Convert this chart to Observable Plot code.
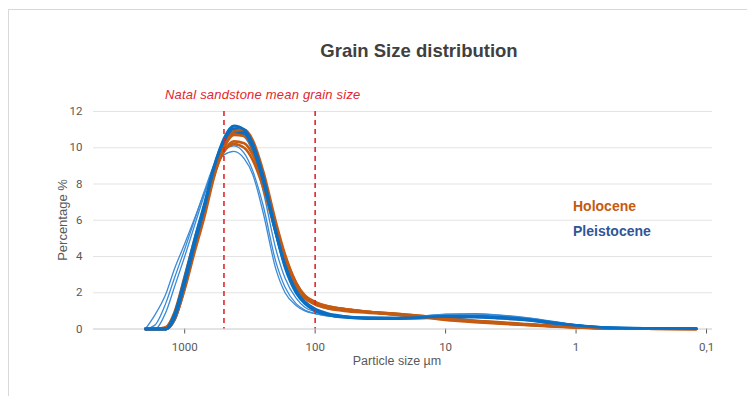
<!DOCTYPE html>
<html><head><meta charset="utf-8">
<script src="https://cdn.jsdelivr.net/npm/d3@7"></script>
<script src="https://cdn.jsdelivr.net/npm/@observablehq/plot@0.6"></script>
<style>
body{margin:0;background:#fff;font-family:Roboto,"Liberation Sans",sans-serif;}
#wrap{position:relative;width:747px;height:396px;overflow:hidden;}
#frame{position:absolute;left:8px;top:9px;width:760px;height:400px;border-top:1px solid #d9d9d9;border-left:1px solid #d9d9d9;}
.t{position:absolute;white-space:nowrap;line-height:20px;}
#chart{position:absolute;left:0;top:0;}
</style></head>
<body>
<div id="wrap">
  <div id="frame"></div>
  <div id="chart"></div>
  <div class="t" style="left:419px;top:40px;transform:translateX(-50%);font:bold 18.5px 'Liberation Sans',Arial,sans-serif;color:#404040;">Grain Size distribution</div>
  <div class="t" style="left:165px;top:87px;font:italic 13px 'Liberation Sans',Arial,sans-serif;letter-spacing:0.2px;color:#e3262e;">Natal sandstone mean grain size</div>
  <div class="t" style="left:573px;top:198px;font:bold 14px 'Liberation Sans',Arial,sans-serif;color:#c55a11;">Holocene</div>
  <div class="t" style="left:573px;top:223px;font:bold 14px 'Liberation Sans',Arial,sans-serif;color:#2f5597;">Pleistocene</div>
  <div class="t" style="left:62px;top:220px;transform:translate(-50%,-50%) rotate(-90deg);font:13px 'Liberation Sans',Arial,sans-serif;color:#595959;">Percentage %</div>
  <div class="t" style="left:397px;top:354px;transform:translateX(-50%);font:12.5px 'Liberation Sans',Arial,sans-serif;color:#595959;">Particle size µm</div>
</div>
<script>
// particle sizes (µm)
const sizes = [2000,1700,1400,1200,1000,850,700,600,500,420,350,300,250,200,170,140,120,100,80,60,40,25,15,10,6,4,2.5,1.5,1,0.6,0.3,0.12];

// Holocene samples (% volume)
const holocene1 = [0,0,0,0.7,2.6,4.5,6.7,8.6,10.1,10.8,10.7,9.9,8.2,5.5,3.8,2.35,1.7,1.35,1.15,1.05,0.95,0.85,0.72,0.6,0.45,0.38,0.28,0.18,0.12,0.05,0.02,0];
const holocene2 = [0,0,0,0.6,2.4,4.3,6.5,8.4,9.8,10.35,10.25,9.6,8.1,5.6,3.9,2.45,1.8,1.4,1.2,1.1,0.95,0.85,0.72,0.6,0.45,0.36,0.26,0.17,0.1,0.04,0.01,0];
const holocene3 = [0,0,0,0.5,2.2,4.1,6.3,8.3,10.0,10.9,11.0,10.4,8.7,5.9,4.1,2.55,1.8,1.4,1.15,1.0,0.9,0.8,0.65,0.55,0.42,0.33,0.24,0.15,0.09,0.03,0.01,0];
const holocene4 = [0,0,0.1,0.9,2.9,4.8,6.9,8.6,9.8,10.2,10.0,9.3,7.8,5.3,3.7,2.4,1.8,1.45,1.25,1.1,0.95,0.8,0.65,0.5,0.38,0.3,0.22,0.14,0.08,0.03,0.01,0];
const holocene5 = [0,0,0,0.6,2.5,4.4,6.6,8.5,10.0,10.7,10.65,10.0,8.4,5.7,4.0,2.55,1.85,1.5,1.25,1.1,0.95,0.82,0.68,0.55,0.42,0.34,0.25,0.16,0.1,0.04,0.01,0];

// Pleistocene samples (% volume)
const pleistocene1 = [0,0,0,0.6,2.5,4.5,6.8,8.8,10.5,11.2,11.0,10.2,8.4,5.4,3.5,2.1,1.45,1.05,0.8,0.68,0.6,0.6,0.65,0.7,0.7,0.65,0.55,0.35,0.2,0.08,0.03,0.02];
const pleistocene2 = [0,0,0,0.8,2.8,4.8,7.0,8.9,10.4,11.05,10.85,10.0,8.2,5.3,3.4,2.0,1.4,1.0,0.78,0.65,0.58,0.58,0.62,0.68,0.68,0.62,0.52,0.33,0.18,0.07,0.03,0.02];
const pleistocene3 = [0,0,0,0.5,2.3,4.3,6.6,8.6,10.2,10.9,10.75,10.0,8.2,5.3,3.5,2.1,1.5,1.1,0.85,0.7,0.62,0.6,0.62,0.65,0.65,0.6,0.5,0.32,0.18,0.07,0.03,0.02];
const pleistocene4 = [0,0.75,1.9,3.3,4.7,6.0,7.6,8.8,9.6,9.8,9.4,8.5,6.4,3.3,2.0,1.3,1.0,0.85,0.72,0.63,0.6,0.62,0.7,0.8,0.82,0.76,0.62,0.4,0.22,0.08,0.03,0.02];
const pleistocene5 = [0,0.2,1.4,2.8,4.4,5.9,7.7,9.0,9.9,10.1,9.7,8.7,6.8,3.7,2.3,1.4,1.05,0.85,0.72,0.63,0.6,0.62,0.72,0.82,0.85,0.78,0.64,0.42,0.24,0.09,0.03,0.02];
const pleistocene6 = [0,0,0.9,2.3,4.0,5.6,7.5,9.0,10.2,10.8,10.6,9.7,7.6,4.4,2.8,1.7,1.2,0.95,0.76,0.65,0.6,0.6,0.68,0.75,0.76,0.7,0.58,0.37,0.2,0.08,0.03,0.02];
const pleistocene7 = [0,0,0,0.5,2.4,4.4,6.7,8.7,10.3,10.9,10.8,10.0,8.2,5.3,3.5,2.1,1.45,1.05,0.8,0.66,0.6,0.6,0.66,0.72,0.72,0.66,0.56,0.36,0.2,0.08,0.03,0.02];

const natalMean = [500, 100];
const xTicks = [1000, 100, 10, 1, 0.1];
const yTicks = [0, 2, 4, 6, 8, 10, 12];

// series drawn in layer order: thin blue, orange, thick blue
const series = [
  {id:"P4", v:pleistocene4, kind:"thin"},
  {id:"P5", v:pleistocene5, kind:"thin"},
  {id:"P6", v:pleistocene6, kind:"thin"},
  {id:"P7", v:pleistocene7, kind:"thin"},
  {id:"H2", v:holocene2, kind:"holo"},
  {id:"H4", v:holocene4, kind:"holo"},
  {id:"H1", v:holocene1, kind:"holo"},
  {id:"P3", v:pleistocene3, kind:"thick"},
  {id:"H5", v:holocene5, kind:"holo"},
  {id:"P2", v:pleistocene2, kind:"thick"},
  {id:"H3", v:holocene3, kind:"holo"},
  {id:"P1", v:pleistocene1, kind:"thick"}
];
const rows = series.flatMap(s => s.v.map((p, i) => ({id: s.id, kind: s.kind, size: sizes[i], pct: p})));

const style = {
  thin: {stroke: "#3b8ad6", strokeWidth: 1.3},
  holo: {stroke: "#c55a11", strokeWidth: 2.6},
  thick: {stroke: "#0a6fc2", strokeWidth: 2.8}
};

const lineMarks = series.map(s => Plot.line(rows.filter(r => r.id === s.id), {
  x: "size", y: "pct", curve: "monotone-x", ...style[s.kind], strokeLinejoin: "round", strokeLinecap: "round"
}));

const chart = Plot.plot({
  width: 747, height: 396,
  marginLeft: 93, marginRight: 35, marginTop: 111, marginBottom: 67.5,
  style: {fontFamily: "Roboto, 'Liberation Sans', sans-serif", fontSize: "11.5px", color: "#595959", background: "transparent"},
  x: {type: "log", domain: [5000, 0.09], ticks: xTicks, tickSize: 5, tickPadding: 9,
      tickFormat: d => String(d).replace(".", ","), label: null},
  y: {domain: [0, 12], ticks: yTicks, tickSize: 0, tickPadding: 11, label: null},
  marks: [
    Plot.ruleY(yTicks.filter(d => d > 0), {stroke: "#e3e3e3", strokeWidth: 1}),
    Plot.ruleY([0], {stroke: "#c8c8c8", strokeWidth: 1}),
    ...lineMarks,
    Plot.ruleX(natalMean, {stroke: "#e0262c", strokeWidth: 1.6, strokeDasharray: "5,4"})
  ]
});
document.getElementById("chart").appendChild(chart);
</script>
</body></html>
